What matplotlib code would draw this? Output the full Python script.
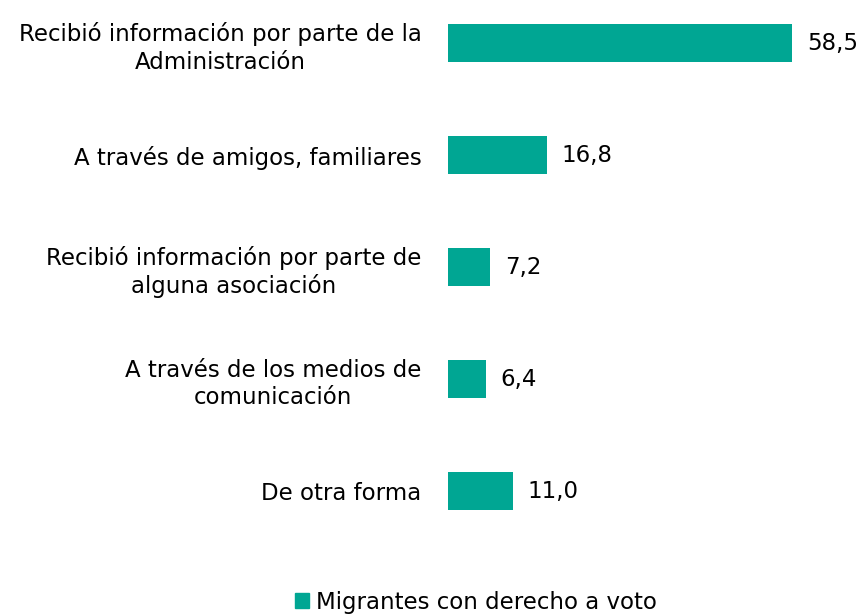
import matplotlib.pyplot as plt
from matplotlib.patches import Patch

plt.rcParams['font.family'] = ['DejaVu Sans']

categorias = [
    "Recibió información por parte de la\nAdministración",
    "A través de amigos, familiares",
    "Recibió información por parte de\nalguna asociación",
    "A través de los medios de\ncomunicación",
    "De otra forma",
]
valores = [58.5, 16.8, 7.2, 6.4, 11.0]
serie = "Migrantes con derecho a voto"
color = "#00A693"

W, H = 862, 615
fig = plt.figure(figsize=(W / 100, H / 100), dpi=100)
ax = fig.add_axes([448 / W, 75 / H, 400 / W, 540 / H])

pos = list(range(len(categorias)))
bars = ax.barh(pos, valores, height=0.34, color=color)
ax.set_xlim(0, 68)
ax.set_ylim(4.4375, -0.384)

for b, v in zip(bars, valores):
    ax.text(b.get_width() + 2.5, b.get_y() + b.get_height() / 2,
            f"{v:.1f}".replace(".", ","), va="center", ha="left", fontsize=16.5)

ax.set_yticks(pos)
ax.set_yticklabels(categorias, fontsize=16.5, ha="right", multialignment="center",
                   linespacing=1.25)
ax.tick_params(axis="y", length=0, pad=19)
ax.set_xticks([])
for s in ax.spines.values():
    s.set_visible(False)

fig.legend([Patch(color=color)], [serie], loc="center",
           bbox_to_anchor=(476 / W, 13 / H), frameon=False, fontsize=16.5,
           handlelength=0.6, handleheight=0.6, handletextpad=0.3)

fig.savefig("out.png", dpi=100)
